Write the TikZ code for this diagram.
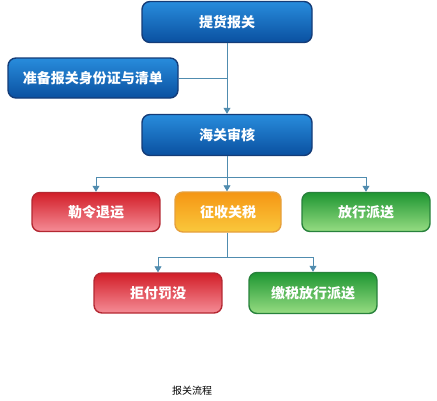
\documentclass[tikz,border=0pt]{standalone}
\usepackage{fontspec}
\usepackage{tikz}
\usetikzlibrary{arrows.meta}
\newfontfamily\cjk{Noto Sans CJK SC}

\begin{document}
\begin{tikzpicture}[x=1pt,y=-1pt,
    box/.style={rounded corners=8pt, line width=1.4pt, text=white, font=\cjk\bfseries\fontsize{14}{16}\selectfont, inner sep=0pt},
    bluebox/.style={box, draw={rgb,255:red,20;green,60;blue,120}, top color={rgb,255:red,40;green,140;blue,220}, bottom color={rgb,255:red,10;green,80;blue,160}},
    redbox/.style={box, draw={rgb,255:red,180;green,40;blue,50}, top color={rgb,255:red,210;green,30;blue,40}, bottom color={rgb,255:red,245;green,140;blue,150}},
    greenbox/.style={box, draw={rgb,255:red,40;green,130;blue,60}, top color={rgb,255:red,30;green,150;blue,50}, bottom color={rgb,255:red,150;green,220;blue,130}},
    orangebox/.style={box, draw={rgb,255:red,230;green,160;blue,60}, top color={rgb,255:red,245;green,150;blue,20}, bottom color={rgb,255:red,250;green,200;blue,60}},
    link/.style={draw={rgb,255:red,80;green,140;blue,175}, line width=0.8pt},
    arr/.style={link, -{Triangle[length=6pt,width=7pt]}}]
        \useasboundingbox (0,0) rectangle (437,400);

        \node[bluebox, minimum width=170pt, minimum height=41pt] (tihuo) at (227, 22) {提货报关};
        \node[bluebox, minimum width=170pt, minimum height=40pt] (zhunbei) at (93, 78) {准备报关身份证与清单};
        \node[bluebox, minimum width=170pt, minimum height=41pt] (shenhe) at (227, 135) {海关审核};
        \node[redbox, minimum width=128pt, minimum height=39pt] (tuiyun) at (96, 212) {勒令退运};
        \node[orangebox, minimum width=106pt, minimum height=40pt] (zhengshui) at (228, 212) {征收关税};
        \node[greenbox, minimum width=128pt, minimum height=39pt] (fangxing) at (366, 212) {放行派送};
        \node[redbox, minimum width=128pt, minimum height=40pt] (famo) at (158, 293) {拒付罚没};
        \node[greenbox, minimum width=128pt, minimum height=41pt] (jiaoshui) at (313, 293) {缴税放行派送};
        \node[font=\cjk\fontsize{10}{12}\selectfont] (caption) at (192, 391) {报关流程};

        \coordinate (j1) at (227, 78);
        \coordinate (j2) at (227, 177);
        \coordinate (j3) at (227, 257);

        \draw[arr] (tihuo.south -| j1) -- (shenhe.north -| j1);
        \draw[link] (zhunbei.east) -- (j1);
        \draw[link] (shenhe.south -| j2) -- (j2);
        \draw[link] (j2 -| tuiyun) -- (j2 -| fangxing);
        \draw[arr] (j2 -| tuiyun) -- (tuiyun.north);
        \draw[arr] (j2) -- (zhengshui.north -| j2);
        \draw[arr] (j2 -| fangxing) -- (fangxing.north);
        \draw[link] (zhengshui.south -| j3) -- (j3);
        \draw[link] (j3 -| famo) -- (j3 -| jiaoshui);
        \draw[arr] (j3 -| famo) -- (famo.north);
        \draw[arr] (j3 -| jiaoshui) -- (jiaoshui.north);
\end{tikzpicture}
\end{document}
